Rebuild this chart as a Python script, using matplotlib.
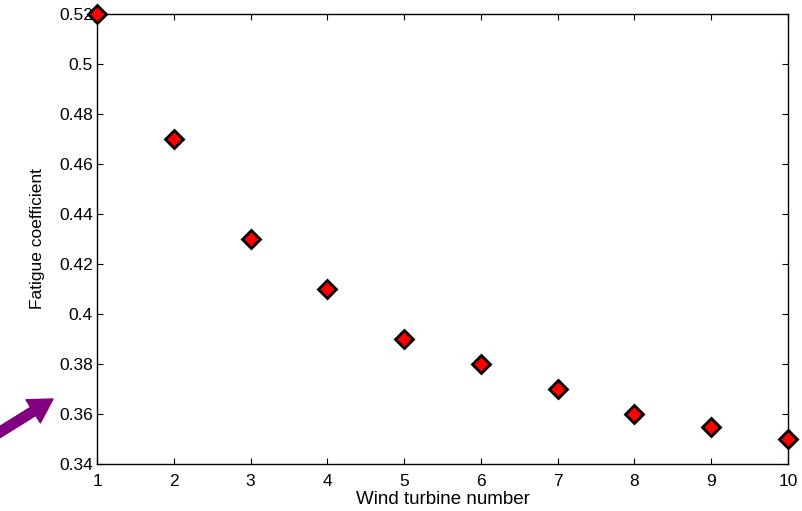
import matplotlib
matplotlib.use("Agg")
import matplotlib.pyplot as plt

plt.rcParams['font.family'] = ['Liberation Sans', 'DejaVu Sans']

turbine = [1, 2, 3, 4, 5, 6, 7, 8, 9, 10]
fatigue = [0.52, 0.47, 0.43, 0.41, 0.39, 0.38, 0.37, 0.36, 0.355, 0.35]
yticks = [0.34, 0.36, 0.38, 0.4, 0.42, 0.44, 0.46, 0.48, 0.5, 0.52]
ytick_labels = ['0.34', '0.36', '0.38', '0.4', '0.42', '0.44', '0.46', '0.48', '0.5', '0.52']

fig = plt.figure(figsize=(8.02, 5.11), dpi=100)
ax = fig.add_axes([97/802, 1 - 464/511, (788 - 97)/802, (464 - 14)/511])

ax.plot(turbine, fatigue, linestyle='none', marker='D', markersize=9,
        markerfacecolor='red', markeredgecolor='black', markeredgewidth=2,
        clip_on=False, zorder=5)

ax.set_xlim(1, 10)
ax.set_ylim(0.34, 0.52)
ax.set_xticks(turbine)
ax.set_yticks(yticks)
ax.set_yticklabels(ytick_labels)
ax.tick_params(direction='in', top=True, right=True, length=4, width=0.8,
               labelsize=12.5, pad=3)
ax.tick_params(axis='x', pad=7)
for s in ax.spines.values():
    s.set_linewidth(1.0)

ax.set_xlabel('Wind turbine number', fontsize=13.5, labelpad=2)
ax.set_ylabel('Fatigue coefficient', fontsize=12.5, labelpad=10)

# purple arrow outside the axes
ax.annotate('', xy=(53, 112), xycoords='figure pixels',
            xytext=(-8, 74), textcoords='figure pixels',
            arrowprops=dict(arrowstyle='simple,head_length=1.2,head_width=1.4,tail_width=0.5',
                            color='#800080', mutation_scale=14, shrinkA=0, shrinkB=0),
            annotation_clip=False)

fig.savefig('out.png', dpi=100)
